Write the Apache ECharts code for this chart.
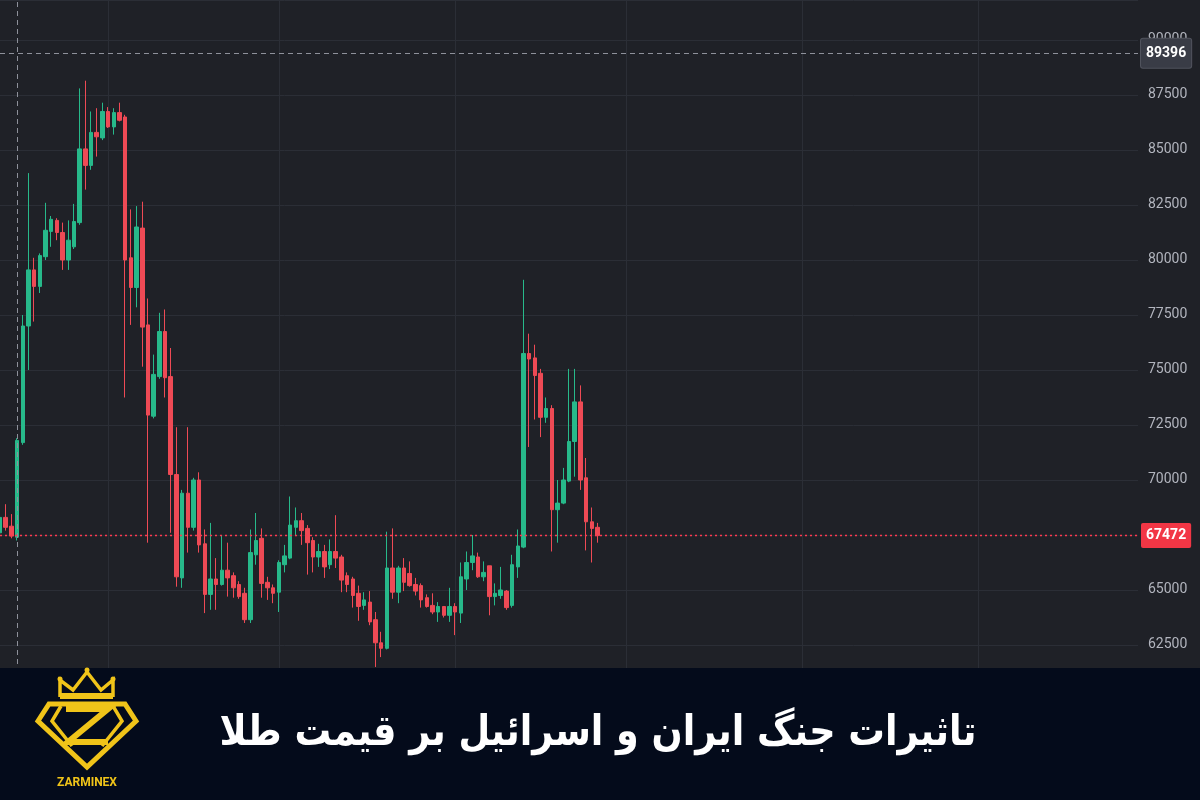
<!DOCTYPE html>
<html>
<head>
<meta charset="utf-8">
<script src="https://cdn.jsdelivr.net/npm/echarts@6/dist/echarts.min.js"></script>
<style>
html,body{margin:0;padding:0;background:#1f2127;}
#chart{width:1200px;height:800px;}
</style>
</head>
<body>
<div id="chart"></div>
<script>
// ---- data ----
const opens  = [67600,68300,67900,67400,71700,77000,79550,78800,80150,81300,81800,81250,80000,80600,81700,85050,84300,85800,85550,86750,86050,86700,86500,80100,78750,81450,77050,72900,74700,76750,74700,70250,65550,69400,67850,70000,67100,64800,65500,65250,65900,65650,65250,64850,63650,66600,67350,65350,65100,64900,66150,66450,67850,68150,67800,67250,66500,66750,66150,66750,66500,65650,65500,64850,64300,64450,63650,62600,62350,66000,64900,66000,65750,65250,65200,64650,64300,64000,64250,63850,64250,63950,65500,66250,66500,65600,66100,64700,64750,64950,64300,66050,66950,75750,75550,74850,72850,73250,68650,68950,69950,71750,73550,70100,68100,67850];
const closes = [68300,67850,67450,71800,77000,79550,78800,80200,81350,81850,81250,80000,80900,81750,85050,84300,85800,85600,86750,86050,86700,86350,80000,78750,81500,76950,72950,74800,76750,74650,70250,65600,69400,67850,70000,67050,64800,65500,65250,65900,65550,65100,64700,63650,66700,67250,65300,65100,64850,66250,66550,67950,68150,67700,67150,66500,66750,66050,66750,66450,65450,65250,64750,64250,64550,63550,62600,62350,66000,64900,66000,65350,65200,64950,64550,64250,64000,64250,63850,64250,64000,65600,66250,66550,65600,65800,64700,64850,65000,64200,66150,67000,75750,75500,74750,72850,73250,68650,68950,70000,71750,73550,70000,68100,67800,67472];
const lows   = [67400,67700,67350,67250,71600,75000,77200,78500,80000,80600,80900,79550,79550,80500,81600,83200,84100,84700,85450,86000,85700,86300,73750,77050,77850,75150,67150,72800,74600,73750,67600,65150,65100,66700,67700,66700,63950,64100,64100,65200,64700,64650,64600,63500,63500,66150,64650,64550,64400,64000,65800,66400,67450,67050,65700,65800,66050,65550,65950,66000,64900,64900,64200,63600,64100,63400,61500,61950,62300,64600,64400,64950,65150,64750,64200,64200,63900,63550,63750,63550,62950,63500,65000,65900,65550,65400,63850,64300,64600,64100,64200,65550,66900,71500,72750,71950,72600,66750,67150,68900,69900,70150,69550,66800,66250,67150];
const highs  = [68700,68900,68450,71900,77500,83950,80100,80300,82600,82000,81900,81700,81800,82550,87800,88150,86750,86900,87150,86950,86900,87150,86600,82300,82450,82650,78250,75700,77600,77750,76000,72400,69550,72400,70100,70350,67750,68050,66450,67500,67150,65800,65400,65100,67750,68500,67800,65600,65250,66350,67050,69250,68750,68500,67950,67400,67100,67050,67300,68400,66600,65800,65600,65200,64900,64950,64000,63100,67650,67800,66100,66450,66300,65550,65300,64800,64850,64450,64250,65100,64400,66250,66750,67500,66700,66300,66100,65300,66050,65000,66600,67750,79100,76650,76150,75050,73750,73400,70000,70550,75050,75050,74300,71000,68750,68050];
const slotCount = 201;              // time slots on the x axis (chart continues empty to the right)
const timeGridSlots = [19, 49, 80, 110, 141, 172];
const yTicks = {min: 60000, max: 91818, step: 2500};
const lastPrice = 67472;
const crosshairPrice = 89396;
const crosshairSlot = 3;
const title = 'تاثیرات جنگ ایران و اسرائیل بر قیمت طلا';
const brand = 'ZARMINEX';

// ---- build ----
const slots = [];
for (let i = 0; i < slotCount; i++) slots.push(String(i));
const ohlc = opens.map((o, i) => [o, closes[i], lows[i], highs[i]]);

const UP = '#27b98a', DOWN = '#ee4a55', GOLD = '#f0c419';

const chart = echarts.init(document.getElementById('chart'), null, {renderer: 'canvas'});
chart.setOption({
  backgroundColor: '#1f2127',
  animation: false,
  grid: {left: 0, right: 62, top: 0, bottom: 100},
  xAxis: {
    type: 'category', data: slots, boundaryGap: false,
    axisLine: {show: false}, axisTick: {show: false}, axisLabel: {show: false},
    splitLine: {show: true, interval: (idx) => timeGridSlots.indexOf(idx) >= 0,
      lineStyle: {color: '#2b2e36', width: 1}}
  },
  yAxis: {
    type: 'value', position: 'right',
    min: yTicks.min, max: yTicks.max, interval: yTicks.step,
    axisLine: {show: false}, axisTick: {show: false},
    axisLabel: {color: '#b2b5be', fontSize: 14, fontFamily: 'Roboto', margin: 10,
      showMaxLabel: false, showMinLabel: false, formatter: (v) => String(v)},
    splitLine: {show: true, lineStyle: {color: '#2b2e36', width: 1}}
  },
  series: [{
    type: 'candlestick',
    data: ohlc,
    barWidth: 4,
    itemStyle: {color: UP, color0: DOWN, borderColor: UP, borderColor0: DOWN, borderWidth: 1},
    markLine: {
      silent: true, symbol: ['none', 'none'], animation: false,
      data: [
        {yAxis: lastPrice,
          lineStyle: {color: '#ff3a4f', type: [2, 3], width: 1.4, opacity: 1},
          label: {show: true, position: 'end', formatter: String(lastPrice), distance: 3,
            color: '#ffffff', backgroundColor: '#f23645',
            padding: [6, 5, 5, 5], borderRadius: 2, fontSize: 14, fontFamily: 'Roboto', fontWeight: 'bold'}},
        {xAxis: String(crosshairSlot),
          lineStyle: {color: '#8e919b', type: [5, 4], width: 1},
          label: {show: false}},
        {yAxis: crosshairPrice,
          lineStyle: {color: '#8e919b', type: [5, 4], width: 1},
          label: {show: true, position: 'end', formatter: String(crosshairPrice), distance: 3,
            color: '#ffffff', backgroundColor: '#393c46', borderColor: '#50535d', borderWidth: 1,
            padding: [8, 5, 7, 5], borderRadius: 2, fontSize: 14, fontFamily: 'Roboto', fontWeight: 'bold'}}
      ]
    }
  }],
  graphic: [
    {type: 'rect', z: 100, shape: {x: 0, y: 668, width: 1200, height: 132}, style: {fill: '#040b1b'}},
    {type: 'text', z: 101, x: 598, y: 734, scaleX: 0.87,
      style: {text: title, x: 0, y: 0, textAlign: 'center', textVerticalAlign: 'middle',
      font: 'bold 42px "DejaVu Sans"', fill: '#ffffff'}},
    // logo crown
    {type: 'polyline', z: 101, shape: {points: [[60,697],[60,680],[73,690],[87,672],[101,690],[113,680],[113,697]]},
      style: {stroke: GOLD, lineWidth: 3.5, fill: null, lineJoin: 'miter'}},
    {type: 'rect', z: 101, shape: {x: 60, y: 693, width: 53, height: 6}, style: {fill: GOLD}},
    {type: 'circle', z: 101, shape: {cx: 60, cy: 679, r: 2.5}, style: {fill: GOLD}},
    {type: 'circle', z: 101, shape: {cx: 87, cy: 670, r: 2.5}, style: {fill: GOLD}},
    {type: 'circle', z: 101, shape: {cx: 113, cy: 679, r: 2.5}, style: {fill: GOLD}},
    // logo diamond
    {type: 'polygon', z: 101, shape: {points: [[49,704],[125,704],[136,721],[87,767],[38,721]]},
      style: {stroke: GOLD, lineWidth: 5, fill: null, lineJoin: 'miter'}},
    {type: 'polyline', z: 101, shape: {points: [[61,706],[52,721],[72,746]]}, style: {stroke: GOLD, lineWidth: 3.5, fill: null}},
    {type: 'polyline', z: 101, shape: {points: [[113,706],[122,721],[102,746]]}, style: {stroke: GOLD, lineWidth: 3.5, fill: null}},
    {type: 'polyline', z: 101, shape: {points: [[66,709],[108,709],[68,742],[108,742]]},
      style: {stroke: GOLD, lineWidth: 6, fill: null, lineJoin: 'miter'}},
    {type: 'text', z: 101, style: {text: brand, x: 87, y: 783, textAlign: 'center', textVerticalAlign: 'middle',
      font: 'bold 12px Roboto', fill: GOLD}}
  ]
});
</script>
</body>
</html>
